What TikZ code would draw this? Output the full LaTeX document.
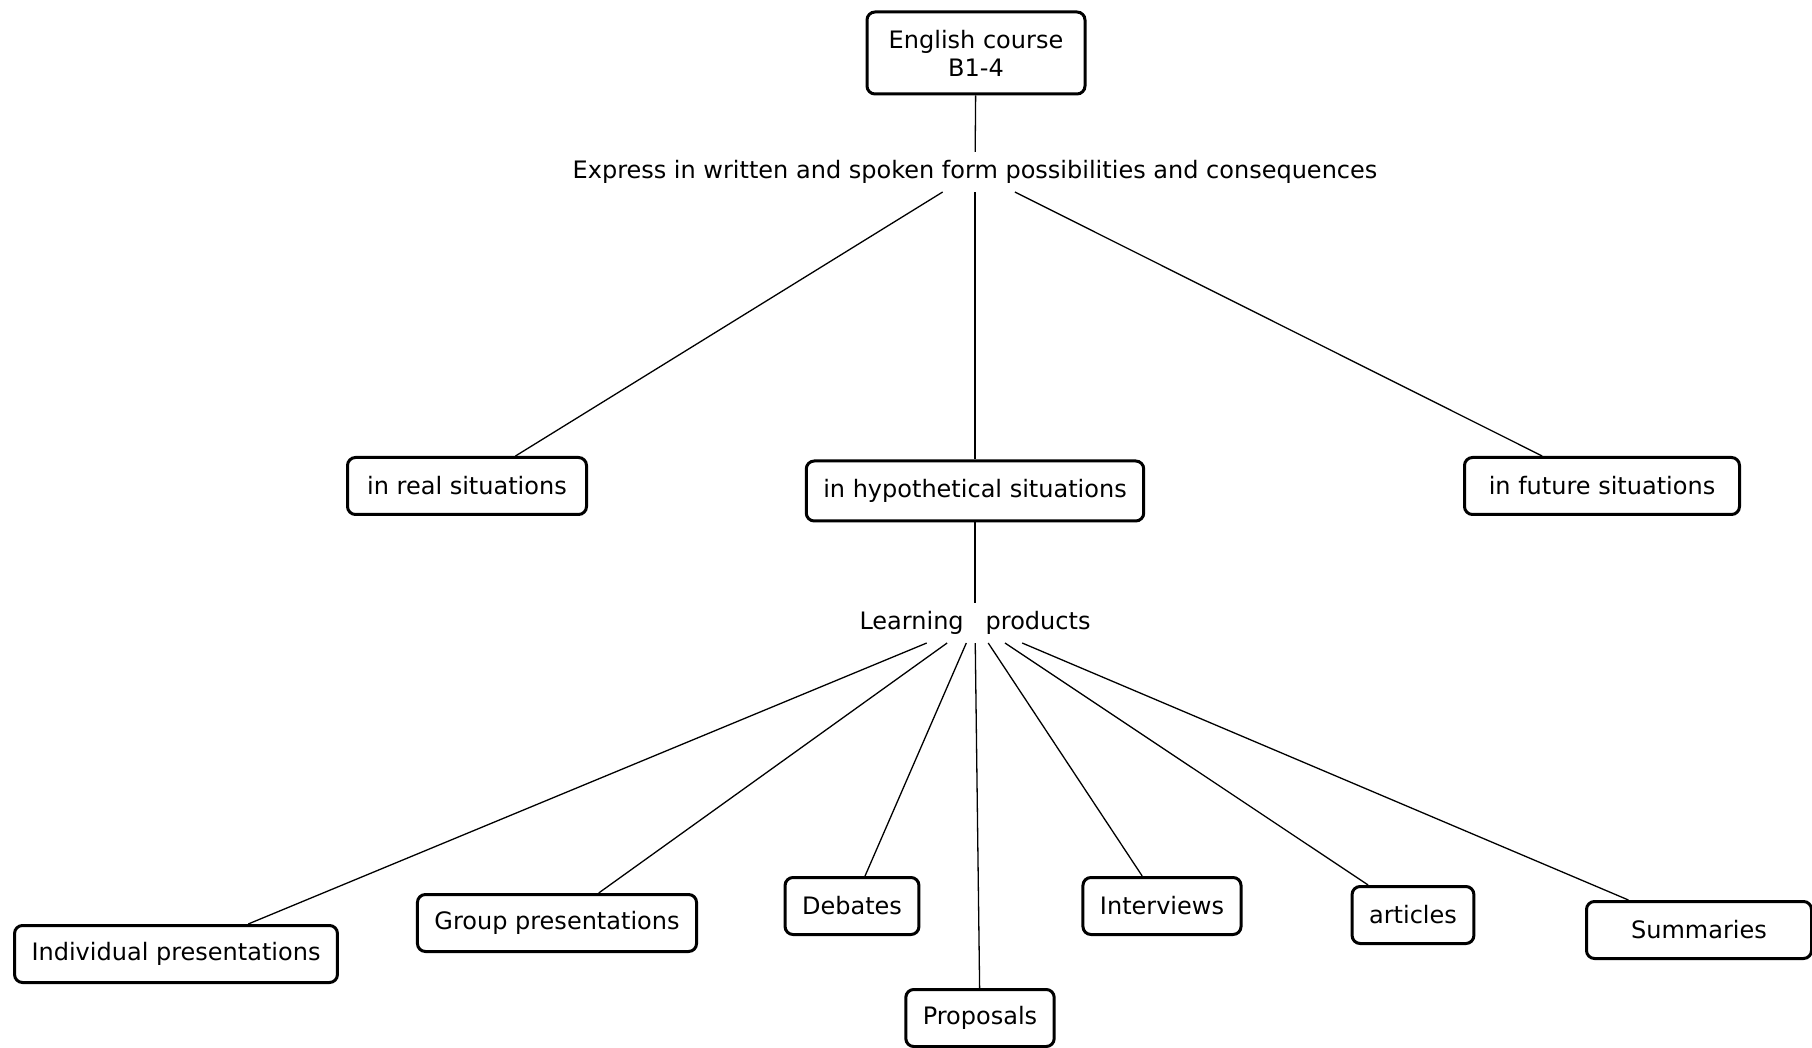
\documentclass[tikz,border=0pt]{standalone}
\usepackage{fontspec}
\setmainfont{DejaVu Sans}
\usetikzlibrary{calc}
\tikzset{
  concept/.style={draw, line width=1.5pt, rounded corners=4pt, fill=white, inner xsep=8.5pt, minimum height=28.5pt, font=\fontsize{12}{14}\selectfont},
  link/.style={font=\fontsize{12}{14}\selectfont, inner sep=4pt},
  wire/.style={line width=0.65pt}
}

\begin{document}
\begin{tikzpicture}[x=0.5pt, y=-0.5pt]
			%%%%% START %%%%%
			\useasboundingbox (0, 0) rectangle (1812, 1048);
			
			\node[concept, align=center, minimum height=41pt, minimum width=109pt] (course) at (976, 53) {English course\\B1-4};
			\node[link] (express) at (975, 172) {Express in written and spoken form possibilities and consequences};
			
			\node[concept, minimum width=119.5pt] (real) at (467, 486) {in real situations};
			\node[concept, minimum height=30pt] (hypo) at (975, 491) {in hypothetical situations};
			\node[concept, minimum width=137.5pt] (future) at (1602, 486) {in future situations};
			
			\node[link] (products) at (975, 623) {Learning\hspace{11pt}products};
			
			\node[concept] (individual) at (176, 954) {Individual presentations};
			\node[concept] (group) at (557, 923) {Group presentations};
			\node[concept] (debates) at (852, 906) {Debates};
			\node[concept] (proposals) at (980, 1018) {Proposals};
			\node[concept] (interviews) at (1162, 906) {Interviews};
			\node[concept] (articles) at (1413, 915) {articles};
			\node[concept, minimum width=112.5pt] (summaries) at (1699, 930) {Summaries};
			
			\draw[wire] (course) -- (express);
			\draw[wire] (express) -- (real);
			\draw[wire] (express) -- (hypo);
			\draw[wire] (express) -- (future);
			
			\draw[wire] (hypo) -- (products);
			\foreach \kid in {individual, group, debates, proposals, interviews, articles, summaries}
				\draw[wire] (products) -- (\kid);
			
			%%%%% END %%%%%
\end{tikzpicture}
\end{document}
